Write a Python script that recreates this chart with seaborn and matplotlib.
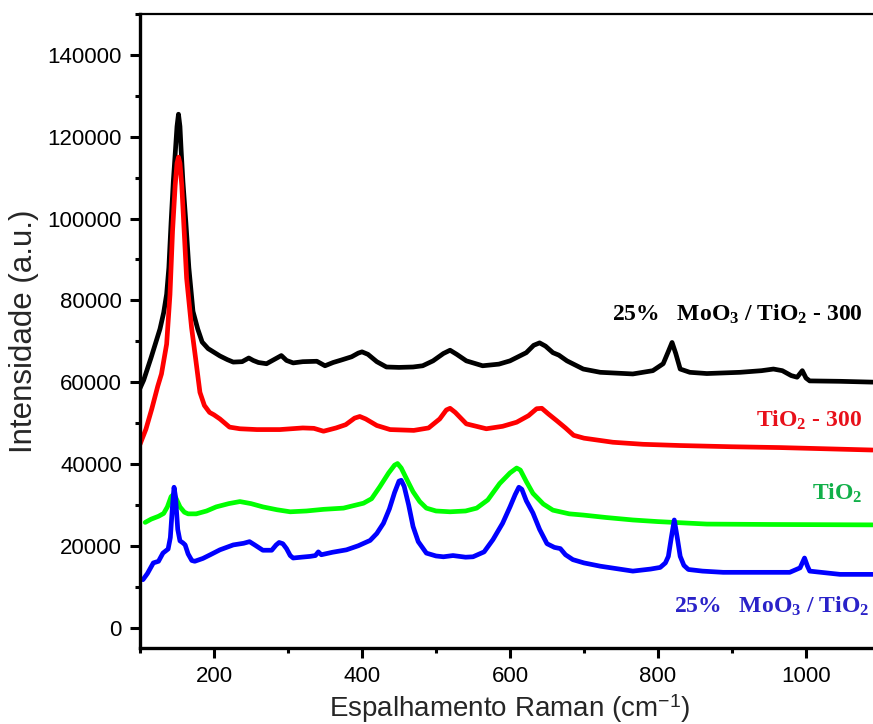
import matplotlib
matplotlib.use("Agg")
import matplotlib.pyplot as plt
import seaborn as sns
import pandas as pd
from matplotlib.ticker import MultipleLocator

# Raman spectra (wavenumber in cm^-1, intensity in a.u.)
mo_tio2_300_x = [100, 105, 115, 127, 132, 136, 139, 142, 145, 148, 150, 152, 154, 155.5, 158, 162,
                 166, 171.6, 178, 184, 192, 200, 208, 218, 226, 238, 247, 253, 260, 271, 282, 291,
                 298, 307, 320, 339, 350, 361, 372, 386, 395, 400, 408, 420, 433, 450, 469, 482,
                 496, 510, 519, 528, 541, 563, 585, 600, 622, 632, 640, 648, 658, 666, 677, 699,
                 722, 766, 793, 807, 814, 819, 824, 830, 843, 866, 911, 940, 956, 968, 980, 988,
                 995, 1000, 1005, 1046, 1090]
mo_tio2_300_y = [58500, 60500, 66000, 73000, 77000, 81500, 88000, 99000, 109000, 117000, 122500,
                 125500, 122500, 117000, 109000, 99000, 88000, 77300, 73000, 69800, 68200, 67300,
                 66400, 65500, 64900, 65000, 65900, 65300, 64800, 64500, 65600, 66500, 65300,
                 64700, 65000, 65100, 64000, 64800, 65400, 66200, 67100, 67400, 66800, 65000,
                 63700, 63600, 63700, 64000, 65200, 67000, 67800, 66800, 65200, 64000, 64400,
                 65200, 67200, 69000, 69600, 68800, 67200, 66600, 65200, 63200, 62400, 62000,
                 62800, 64500, 67500, 69700, 67000, 63200, 62400, 62100, 62400, 62800, 63200,
                 62800, 61600, 61200, 62800, 61000, 60300, 60200, 60000]

tio2_300_x = [100, 108, 116, 124, 129, 136, 140.5, 144, 147.5, 150, 152, 154, 156.5, 159.5, 163,
              169.7, 175, 181, 187, 194, 200, 208, 221, 235, 258, 289, 320, 335, 348, 365, 378,
              390, 397, 405, 420, 438, 470, 490, 505, 514, 519, 526, 541, 568, 590, 609, 625, 636,
              643, 652, 663, 675, 686, 700, 739, 780, 830, 900, 965, 1090]
tio2_300_y = [44800, 48500, 53500, 59000, 62000, 69300, 81400, 97000, 108000, 113500, 115000,
              113500, 108000, 97600, 85400, 73300, 66000, 57500, 54300, 52600, 52000, 51000, 49000,
              48600, 48400, 48400, 48800, 48700, 48000, 48800, 49600, 51200, 51600, 51000, 49400,
              48400, 48200, 48800, 51000, 53200, 53600, 52600, 49800, 48600, 49200, 50200, 51800,
              53500, 53600, 52200, 50600, 48800, 47000, 46300, 45300, 44800, 44500, 44200, 44000,
              43400]

tio2_x = [107, 115, 125, 132, 137, 142, 145, 149, 154, 160, 165, 176, 190, 203, 220, 235, 250, 266,
          285, 303, 325, 348, 375, 402, 413, 424, 436, 444, 448, 453, 462, 469, 478, 487, 500, 519,
          540, 555, 570, 586, 600, 609, 614, 622, 631, 645, 658, 680, 699, 730, 766, 800, 866, 950,
          1090]
tio2_y = [25700, 26500, 27200, 27900, 29500, 32000, 32500, 31500, 29500, 28200, 27800, 27800, 28500,
          29500, 30300, 30800, 30300, 29500, 28800, 28300, 28500, 28900, 29200, 30400, 31500, 34400,
          37800, 39700, 40100, 39000, 35700, 33200, 30800, 29200, 28500, 28300, 28500, 29200, 31200,
          35200, 37800, 39000, 38500, 35700, 32800, 30200, 28700, 27800, 27500, 26900, 26300, 25900,
          25300, 25200, 25100]

mo_tio2_x = [104, 110, 118, 125, 131, 138, 141, 144, 146, 148, 151, 154, 158, 161, 165, 170, 174,
             185, 195, 208, 226, 240, 248, 255, 266, 278, 284, 288, 293, 298, 303, 307, 318, 330,
             337, 341, 345, 360, 379, 395, 411, 420, 429, 437, 444, 450, 453, 457, 463, 469, 476,
             487, 500, 510, 523, 540, 550, 565, 577, 590, 600, 607, 612, 616, 622, 631, 640, 650,
             660, 668, 675, 685, 700, 722, 766, 790, 803, 810, 814, 818, 822, 826, 830, 835, 841,
             860, 888, 978, 992, 998, 1002, 1005, 1046, 1090]
mo_tio2_y = [11700, 13200, 15800, 16200, 18200, 19200, 22000, 30000, 34300, 32000, 24000, 21200,
             20700, 20200, 18000, 16400, 16200, 16900, 17800, 19000, 20200, 20600, 21000, 20200,
             18900, 18900, 20200, 20800, 20500, 19300, 17600, 17000, 17200, 17400, 17600, 18500,
             17800, 18400, 19000, 20000, 21300, 23000, 25500, 29000, 33000, 35800, 36000, 34500,
             30000, 24700, 21000, 18200, 17500, 17300, 17600, 17200, 17300, 18500, 21500, 25500,
             29500, 32500, 34300, 33800, 31000, 28000, 24000, 20500, 19600, 19300, 17800, 16600,
             15800, 15000, 13800, 14300, 14700, 15800, 17400, 22000, 26300, 22000, 17400, 15200,
             14200, 13800, 13500, 13500, 14600, 17000, 15000, 13800, 13000, 13000]

series_colors = ["#000000", "#ff0000", "#00ff00", "#0000ff"]
label_texts = ["25%   MoO$_3$ / TiO$_2$ - 300", "TiO$_2$ - 300", "TiO$_2$",
               "25%   MoO$_3$ / TiO$_2$"]
label_colors = ["#000000", "#e8101a", "#12b04a", "#2a22c8"]
label_x = [1076, 1076, 1076, 1085]
label_y = [76600, 50600, 32900, 5200]

sns.set_theme(style="ticks")
plt.rcParams["font.family"] = ["Liberation Sans", "DejaVu Sans"]
plt.rcParams["mathtext.fontset"] = "custom"
plt.rcParams["mathtext.rm"] = "Liberation Serif:bold"
plt.rcParams["mathtext.it"] = "Liberation Serif:bold"
plt.rcParams["mathtext.bf"] = "Liberation Serif:bold"
plt.rcParams["mathtext.sf"] = "Liberation Sans"

fig = plt.figure(figsize=(8.73, 7.24), dpi=100)
ax = fig.add_axes([140 / 873, 76 / 724, (880 - 140) / 873, (648 - 14) / 724])

spectra = [(mo_tio2_300_x, mo_tio2_300_y), (tio2_300_x, tio2_300_y),
           (tio2_x, tio2_y), (mo_tio2_x, mo_tio2_y)]
for (xs, ys), c in zip(spectra, series_colors):
    df = pd.DataFrame({"w": xs, "i": ys})
    sns.lineplot(data=df, x="w", y="i", ax=ax, color=c, linewidth=3.4,
                 sort=False, estimator=None, solid_joinstyle="round", solid_capstyle="round")

for t, c, x, y in zip(label_texts, label_colors, label_x, label_y):
    ax.text(x, y, t, color=c, ha="right", va="center", fontsize=17,
            family="Liberation Serif", fontweight="bold")

ax.set_xlim(100, 1100)
ax.set_ylim(-5000, 150000)
ax.xaxis.set_major_locator(MultipleLocator(200))
ax.xaxis.set_minor_locator(MultipleLocator(100))
ax.yaxis.set_major_locator(MultipleLocator(20000))
ax.yaxis.set_minor_locator(MultipleLocator(10000))

ax.set_xlabel("Espalhamento Raman (cm$^{\\mathsf{-1}}$)", fontsize=20, labelpad=4)
ax.set_ylabel("Intensidade (a.u.)", fontsize=22.5, labelpad=6)

ax.tick_params(axis="both", which="major", direction="out", length=7, width=2.2,
               labelsize=16, pad=6, color="black", labelcolor="black")
ax.tick_params(axis="both", which="minor", direction="out", length=3.5, width=2.2, color="black")

for side in ["left", "bottom"]:
    ax.spines[side].set_linewidth(2.4)
    ax.spines[side].set_color("black")
ax.spines["top"].set_visible(True)
ax.spines["top"].set_linewidth(1.6)
ax.spines["top"].set_color("black")
ax.spines["right"].set_visible(False)

fig.savefig("out.png", dpi=100)
